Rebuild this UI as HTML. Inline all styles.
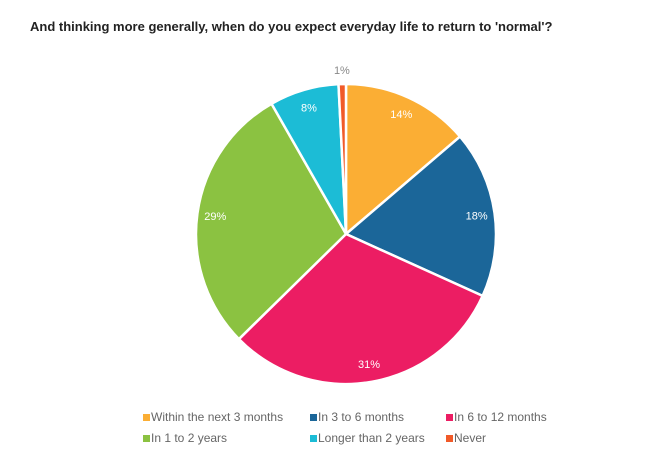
<!DOCTYPE html>
<html><head><meta charset="utf-8"><style>
body{margin:0;background:#fff;width:672px;height:457px;overflow:hidden;font-family:"Liberation Sans",sans-serif}
</style></head><body>
<svg width="672" height="457">
<text x="30" y="31" font-size="13" font-weight="bold" fill="#222">And thinking more generally, when do you expect everyday life to return to 'normal'?</text>
<g id="pie"></g>
<g id="legend"></g>
</svg>
<script>
const categories=["Within the next 3 months","In 3 to 6 months","In 6 to 12 months","In 1 to 2 years","Longer than 2 years","Never"];
const values=[13.8,18.1,31.0,29.2,7.5,0.8];
const colors=["#FBAE34","#1B6699","#EC1D63","#8BC241","#1CBCD6","#F15A29"];
const NS="http://www.w3.org/2000/svg";
const cx=346,cy=234,r=150;
const total=values.reduce((a,b)=>a+b,0);
const pie=document.getElementById('pie');
let acc=0;
function pt(a,rad){return [cx+rad*Math.sin(a),cy-rad*Math.cos(a)];}
values.forEach((v,i)=>{
  const a0=acc/total*2*Math.PI; acc+=v; const a1=acc/total*2*Math.PI;
  const p0=pt(a0,r),p1=pt(a1,r);
  const path=document.createElementNS(NS,'path');
  path.setAttribute('d',`M${cx},${cy}L${p0[0]},${p0[1]}A${r},${r} 0 ${a1-a0>Math.PI?1:0} 1 ${p1[0]},${p1[1]}Z`);
  path.setAttribute('fill',colors[i]);path.setAttribute('stroke','#fff');path.setAttribute('stroke-width','2.5');
  
  
  pie.appendChild(path);
  const am=(a0+a1)/2;
  const small=v<3;
  const lp=pt(am,small?r+14:r*0.88);
  const t=document.createElementNS(NS,'text');
  t.setAttribute('x',lp[0]);t.setAttribute('y',lp[1]+4);
  t.setAttribute('text-anchor','middle');t.setAttribute('font-size','11');
  t.setAttribute('fill',small?'#888':'#fff');
  t.textContent=Math.round(v)+'%';
  
  
  pie.appendChild(t);
});
const lg=document.getElementById('legend');
const colX=[143,310,446],rowY=[417,438];
categories.forEach((c,i)=>{
  const x=colX[i%3],y=rowY[Math.floor(i/3)];
  const g=document.createElementNS(NS,'g');
  
  
  const s=document.createElementNS(NS,'rect');
  s.setAttribute('x',x);s.setAttribute('y',y-3);s.setAttribute('width',7);s.setAttribute('height',7);s.setAttribute('fill',colors[i]);
  const t=document.createElementNS(NS,'text');
  t.setAttribute('x',x+8);t.setAttribute('y',y+4);t.setAttribute('font-size','12');t.setAttribute('fill','#666');
  t.textContent=c;
  g.appendChild(s);g.appendChild(t);lg.appendChild(g);
});
</script>
</body></html>
